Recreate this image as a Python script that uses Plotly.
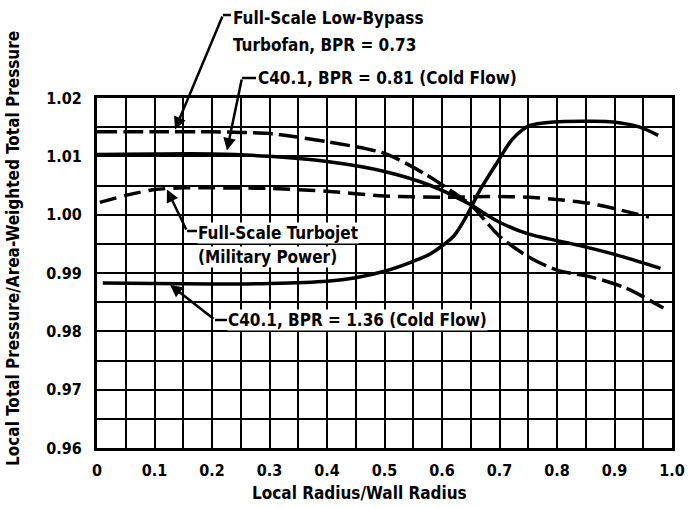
import plotly.graph_objects as go

# ---- data ----
x_turbofan = [0.0, 0.1, 0.2, 0.25, 0.3, 0.4, 0.5, 0.57, 0.62, 0.65, 0.70, 0.75, 0.80, 0.86, 0.92, 0.985]
y_turbofan = [1.0142, 1.0142, 1.0142, 1.0141, 1.0139, 1.0125, 1.0105, 1.0070, 1.0038, 1.0017, 0.9963, 0.9928, 0.9905, 0.9893, 0.9874, 0.9840]

x_c081 = [0.0, 0.1, 0.2, 0.3, 0.4, 0.5, 0.58, 0.646, 0.70, 0.75, 0.84, 0.90, 0.98]
y_c081 = [1.0103, 1.0104, 1.0104, 1.0100, 1.0091, 1.0074, 1.0050, 1.0019, 0.9987, 0.9967, 0.9947, 0.9932, 0.9908]

x_turbojet = [0.005, 0.05, 0.1, 0.15, 0.2, 0.3, 0.4, 0.5, 0.6, 0.7, 0.75, 0.8, 0.86, 0.91, 0.96]
y_turbojet = [1.0021, 1.0033, 1.0043, 1.0046, 1.0046, 1.0045, 1.0040, 1.0032, 1.0030, 1.0031, 1.0030, 1.0026, 1.0019, 1.0008, 0.9996]

x_c136 = [0.01, 0.1, 0.2, 0.3, 0.4, 0.45, 0.5, 0.55, 0.58, 0.62, 0.645, 0.666, 0.695, 0.723, 0.753, 0.794, 0.85, 0.898, 0.944, 0.976]
y_c136 = [0.9883, 0.9882, 0.9881, 0.9882, 0.9886, 0.9892, 0.9903, 0.9920, 0.9933, 0.9963, 1.0002, 1.0042, 1.0088, 1.0130, 1.0153, 1.0159, 1.0160, 1.0159, 1.0150, 1.0136]

x_tickvals = [0, 0.1, 0.2, 0.3, 0.4, 0.5, 0.6, 0.7, 0.8, 0.9, 1.0]
x_ticktext = ["0", "0.1", "0.2", "0.3", "0.4", "0.5", "0.6", "0.7", "0.8", "0.9", "1.0"]
y_tickvals = [0.96, 0.97, 0.98, 0.99, 1.00, 1.01, 1.02]
y_ticktext = ["0.96", "0.97", "0.98", "0.99", "1.00", "1.01", "1.02"]

FONT = "Liberation Sans Narrow, DejaVu Sans Condensed, Arial Narrow, sans-serif"

# plot-area pixel geometry
L, R, T, B = 97, 672, 98, 448
W, H = 690, 507


def px(xp):
    return (xp - L) / (R - L)


def py(yp):
    return (B - yp) / (B - T)


fig = go.Figure()
line_w = 3.5
fig.add_trace(go.Scatter(x=x_turbofan, y=y_turbofan, mode="lines",
                         line=dict(color="black", width=line_w, dash="20px,6px", shape="spline", smoothing=0.8),
                         name="Full-Scale Low-Bypass Turbofan, BPR = 0.73"))
fig.add_trace(go.Scatter(x=x_c081, y=y_c081, mode="lines",
                         line=dict(color="black", width=line_w, shape="spline", smoothing=0.8),
                         name="C40.1, BPR = 0.81 (Cold Flow)"))
fig.add_trace(go.Scatter(x=x_turbojet, y=y_turbojet, mode="lines",
                         line=dict(color="black", width=line_w, dash="17px,8px", shape="spline", smoothing=0.8),
                         name="Full-Scale Turbojet (Military Power)"))
fig.add_trace(go.Scatter(x=x_c136, y=y_c136, mode="lines",
                         line=dict(color="black", width=line_w, shape="spline", smoothing=0.8),
                         name="C40.1, BPR = 1.36 (Cold Flow)"))

grid = dict(showgrid=True, gridcolor="black", gridwidth=2)
fig.update_xaxes(range=[0, 1], tickvals=x_tickvals, ticktext=x_ticktext,
                 showline=True, mirror=True, linecolor="black", linewidth=3,
                 zeroline=False, ticks="", ticklabelstandoff=6, automargin=False,
                 tickfont=dict(family=FONT, size=16, color="black", weight="bold"),
                 minor=dict(dtick=0.05, **grid), **grid)
fig.update_yaxes(range=[0.96, 1.02], tickvals=y_tickvals, ticktext=y_ticktext,
                 showline=True, mirror=True, linecolor="black", linewidth=3,
                 zeroline=False, ticks="", ticklabelstandoff=9, automargin=False,
                 tickfont=dict(family=FONT, size=16, color="black", weight="bold"),
                 minor=dict(dtick=0.005, **grid), **grid)

ann = []
tf = dict(family=FONT, size=17, color="black", weight="bold")


def label(text, xp, yp, bg=None):
    d = dict(text=text, xref="paper", yref="paper", x=px(xp), y=py(yp),
             xanchor="left", yanchor="middle", showarrow=False, font=tf, borderpad=0)
    if bg:
        d["bgcolor"] = bg
    ann.append(d)


label("Full-Scale Low-Bypass", 232, 18)
label("Turbofan, BPR = 0.73", 232, 45)
label("C40.1, BPR = 0.81 (Cold Flow)", 257, 78)
label("Full-Scale Turbojet", 197, 233, "white")
label("(Military Power)", 197, 257, "white")
label("C40.1, BPR = 1.36 (Cold Flow)", 227, 320, "white")


def leader(x_tip, y_tip, cx, cy):
    # arrow from a corner pixel to the tip (data coordinates)
    ann.append(dict(text="", x=x_tip, y=y_tip, xref="x", yref="y",
                    axref="pixel", ayref="pixel",
                    ax=cx - (L + x_tip * (R - L)),
                    ay=cy - (B - (y_tip - 0.96) / 0.06 * (B - T)),
                    showarrow=True, arrowhead=2, arrowsize=1, arrowwidth=2.5,
                    arrowcolor="black", standoff=0, startstandoff=0))


leader(0.1357, 1.0146, 223, 15)
leader(0.226, 1.0110, 242, 78)
leader(0.1217, 1.0043, 187, 231)
leader(0.127, 0.9880, 215, 320)

shapes = []
for (x0, x1, yy) in [(223, 231, 15), (242, 256, 78), (187, 197, 231), (215, 227, 320)]:
    shapes.append(dict(type="line", xref="paper", yref="paper",
                       x0=px(x0), x1=px(x1), y0=py(yy), y1=py(yy),
                       line=dict(color="black", width=2.5)))

# axis titles
ann.append(dict(text="Local Radius/Wall Radius", xref="paper", yref="paper",
                x=px(359), y=py(493), xanchor="center", yanchor="middle", showarrow=False,
                font=dict(family=FONT, size=17, color="black", weight="bold")))
ann.append(dict(text="Local Total Pressure/Area-Weighted Total Pressure", xref="paper", yref="paper",
                x=px(13), y=py(249), xanchor="center", yanchor="middle", showarrow=False,
                textangle=-90,
                font=dict(family=FONT, size=17, color="black", weight="bold")))

fig.update_layout(width=W, height=H, margin=dict(l=L, r=W - R, t=T, b=H - B, autoexpand=False),
                  paper_bgcolor="white", plot_bgcolor="white", showlegend=False,
                  annotations=ann, shapes=shapes)

fig.write_html("out.html", config={"displayModeBar": False},
               post_script="document.body.style.margin='0';document.body.style.overflow='hidden';")
